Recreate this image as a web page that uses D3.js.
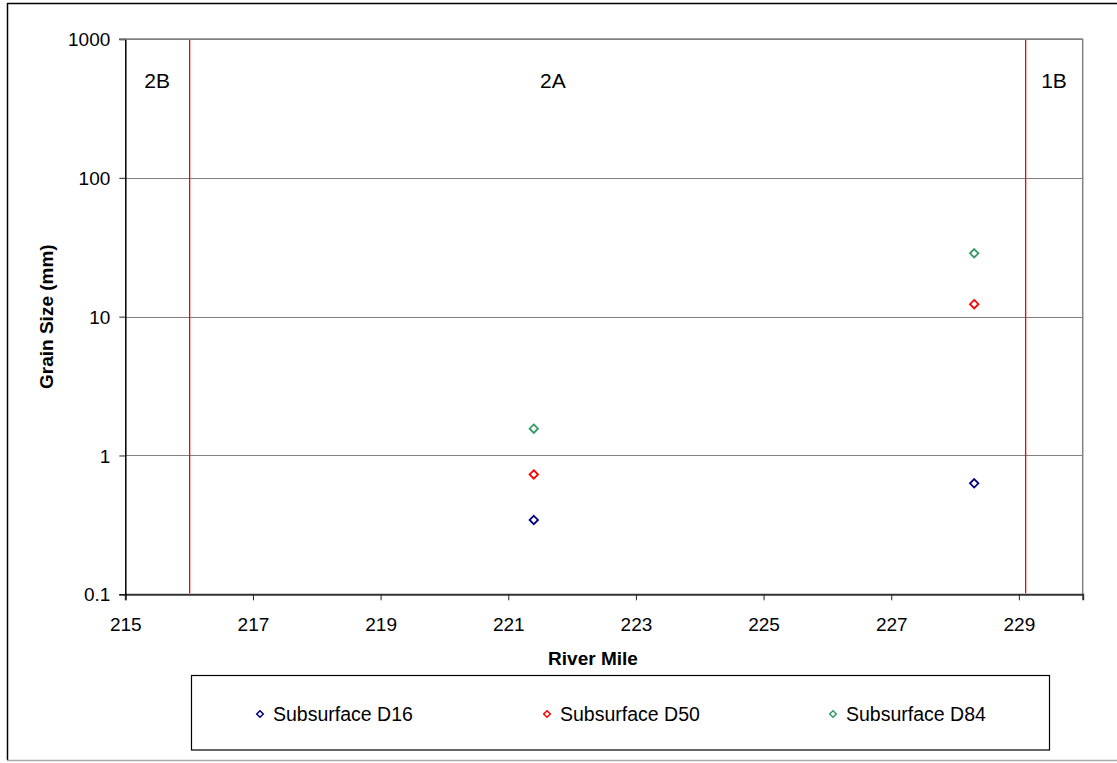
<!DOCTYPE html>
<html><head><meta charset="utf-8">
<script src="https://cdn.jsdelivr.net/npm/d3@7"></script>
<style>body{margin:0;background:#fff}svg{display:block;font-family:"Liberation Sans",Arial,sans-serif}</style>
</head><body><svg id="c" width="1117" height="763"></svg>
<script>
const riverMiles = [221.4, 228.3];
const d16 = [0.343, 0.63];
const d50 = [0.73, 12.3];
const d84 = [1.56, 28.6];
const seriesNames = ["Subsurface D16", "Subsurface D50", "Subsurface D84"];
const seriesColors = ["#000080", "#FF0000", "#339966"];
const xTicks = [215, 217, 219, 221, 223, 225, 227, 229];
const yTicks = [0.1, 1, 10, 100, 1000];
const yTickLabels = ["0.1", "1", "10", "100", "1000"];
const reachBoundaries = [216.0, 229.1];
const reachLabels = ["2B", "2A", "1B"];
const reachLabelMiles = [215.5, 221.7, 229.55];

const svg = d3.select("#c");
const L = 125.3, R = 1082.7, T = 39, B = 594.3;
const x = d3.scaleLinear().domain([215, 230]).range([L, R]);
const y = d3.scaleLog().domain([0.1, 1000]).range([B, T]);

// outer frame
svg.append("line").attr("x1",7.5).attr("x2",7.5).attr("y1",3).attr("y2",760).attr("stroke","#000").attr("stroke-width",1.5);
svg.append("line").attr("x1",7).attr("x2",1117).attr("y1",3.5).attr("y2",3.5).attr("stroke","#000").attr("stroke-width",1.5);
svg.append("line").attr("x1",7).attr("x2",1117).attr("y1",760.5).attr("y2",760.5).attr("stroke","#aaa").attr("stroke-width",1.5);

// gridlines
svg.append("g").selectAll("line").data(yTicks.slice(1)).join("line")
  .attr("x1",L).attr("x2",R).attr("y1",d=>Math.round(y(d))+0.5).attr("y2",d=>Math.round(y(d))+0.5)
  .attr("stroke","#808080").attr("stroke-width",1);
// right border
svg.append("line").attr("x1",R).attr("x2",R).attr("y1",T).attr("y2",B).attr("stroke","#808080").attr("stroke-width",1.5);

// axes
const xAxis = d3.axisBottom(x).tickValues(xTicks).tickFormat(d3.format("d")).tickSizeOuter(0).tickSize(6).tickPadding(17);
const gx = svg.append("g").attr("transform",`translate(0,${B})`).call(xAxis);
gx.select(".domain").attr("stroke","#333").attr("stroke-width",2);
gx.selectAll(".tick line").attr("stroke","#222");
gx.selectAll("text").attr("font-size",19).attr("fill","#000").attr("font-family","Liberation Sans, Arial, sans-serif");

const yAxis = d3.axisLeft(y).tickValues(yTicks).tickFormat((d,i)=>yTickLabels[i]).tickSizeOuter(0).tickSize(6).tickPadding(9);
const gy = svg.append("g").attr("transform",`translate(${L},0)`).call(yAxis);
gy.select(".domain").attr("stroke","#000").attr("stroke-width",1.5);
gy.selectAll(".tick line").attr("stroke","#222");
gy.selectAll("text").attr("font-size",19).attr("fill","#000").attr("font-family","Liberation Sans, Arial, sans-serif").attr("dy","0.35em");
// top border
svg.append("line").attr("x1",L-6).attr("x2",R).attr("y1",T).attr("y2",T).attr("stroke","#808080").attr("stroke-width",1.5);

// reach boundaries (drawn on top)
reachBoundaries.forEach(b=>{
  svg.append("rect").attr("x",Math.round(x(b))).attr("y",T+1).attr("width",1.3).attr("height",B-T-2)
    .attr("fill","#FF0000").attr("stroke","none");
});

// axis titles
svg.append("text").attr("x",593).attr("y",665).attr("text-anchor","middle")
  .attr("font-size",19).attr("font-weight","bold").text("River Mile");
svg.append("text").attr("transform",`translate(53,${(T+B)/2}) rotate(-90)`).attr("text-anchor","middle")
  .attr("font-size",19).attr("font-weight","bold").text("Grain Size (mm)");

// reach labels
svg.append("g").selectAll("text").data(reachLabels).join("text")
  .attr("x",(d,i)=>x(reachLabelMiles[i])).attr("y",88).attr("text-anchor","middle")
  .attr("font-size",21).text(d=>d);

// points
const diamond = (cx,cy,r)=>`M${cx},${cy-r}L${cx+r},${cy}L${cx},${cy+r}L${cx-r},${cy}Z`;
const series = [d16, d50, d84];
series.forEach((vals,si)=>{
  svg.append("g").selectAll("path").data(vals).join("path")
    .attr("d",(v,i)=>diamond(x(riverMiles[i]), y(v), 4.2))
    .attr("fill","none").attr("stroke",seriesColors[si]).attr("stroke-width",1.8);
});

// legend
svg.append("rect").attr("x",191.5).attr("y",675.5).attr("width",858).attr("height",74.5)
  .attr("fill","#fff").attr("stroke","#000").attr("stroke-width",1.2);
const legX = [260, 547, 833];
seriesNames.forEach((n,i)=>{
  svg.append("path").attr("d",diamond(legX[i],714,3.3)).attr("fill","none")
    .attr("stroke",seriesColors[i]).attr("stroke-width",1.5);
  svg.append("text").attr("x",legX[i]+13).attr("y",720.5).attr("font-size",19.5).text(n);
});
</script></body></html>
